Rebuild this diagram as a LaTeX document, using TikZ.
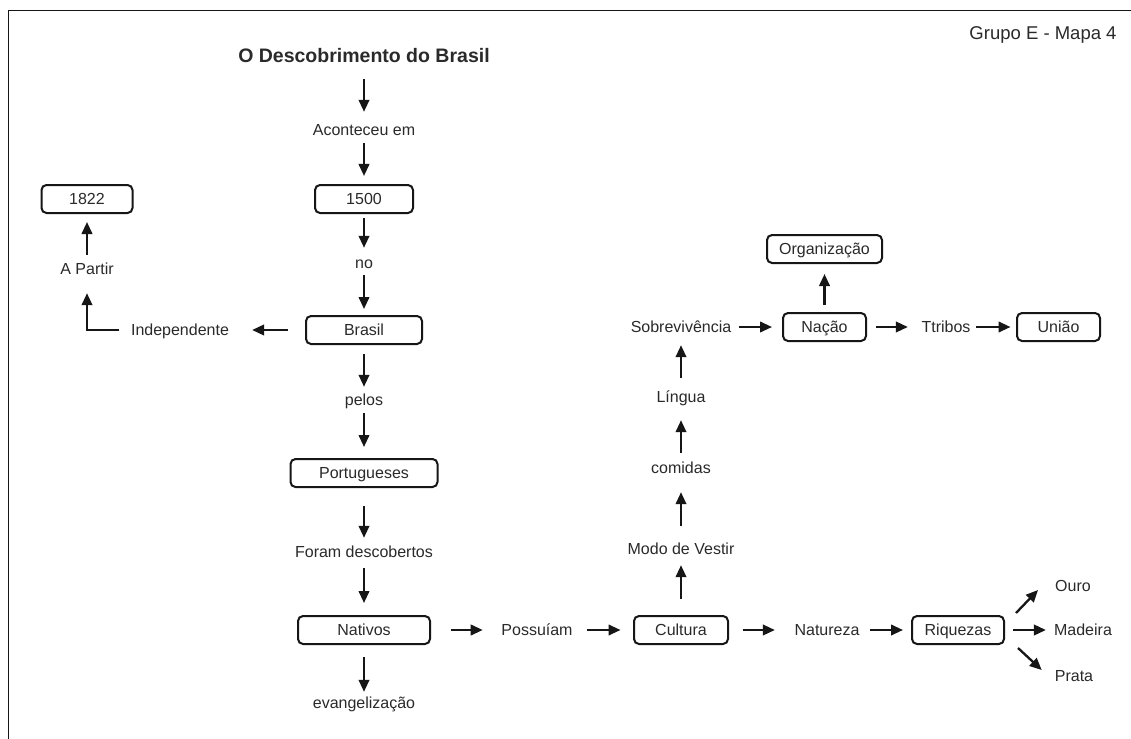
\documentclass[tikz,border=0pt]{standalone}
\usepackage{fontspec}
\setmainfont{Liberation Sans}
\usetikzlibrary{arrows.meta,calc}
\definecolor{ink}{HTML}{161616}
\definecolor{txt}{HTML}{2A2A2A}
\begin{document}
\begin{tikzpicture}[x=1pt,y=-1pt,
  every node/.style={text=txt, font=\fontsize{16}{18}\selectfont},
  lbl/.style={inner sep=0pt, text height=11pt, text depth=0pt},
  box/.style={draw=ink, line width=2pt, rounded corners=5pt, minimum height=28pt,
              inner sep=0pt, text height=11pt, text depth=0pt},
  arr/.style={draw=ink, line width=2.3pt, -{Triangle[length=12pt,width=10.5pt]}},
]
\useasboundingbox (0,0) rectangle (1131,738);
\fill[white] (0,0) rectangle (1131,738);
% page frame
\draw[ink, line width=1.5pt] (8.5,745) -- (8.5,10.5) -- (1140,10.5);

% headings
\node[font=\bfseries\fontsize{19.5}{22}\selectfont, inner sep=0pt, text height=14pt, text depth=0pt]
  (title) at (364,56) {O Descobrimento do Brasil};
\node[font=\fontsize{18.5}{21}\selectfont, inner sep=0pt, text height=13pt, text depth=0pt]
  (grupo) at (1043,33) {Grupo E - Mapa 4};

% main column
\node[lbl] (acont) at (364,130) {Aconteceu em};
\node[box, minimum width=98pt] (b1500) at (364,199) {1500};
\node[lbl] (no) at (364,263) {no};
\node[box, minimum width=116pt] (brasil) at (364,330) {Brasil};
\node[lbl] (pelos) at (364,400) {pelos};
\node[box, minimum width=147pt] (port) at (364,473) {Portugueses};
\node[lbl] (foram) at (364,552) {Foram descobertos};
\node[box, minimum width=132pt] (nativos) at (364,630) {Nativos};
\node[lbl] (evang) at (364,703) {evangelização};

% left branch
\node[lbl] (indep) at (180,330) {Independente};
\node[lbl] (apartir) at (87,269) {A Partir};
\node[box, minimum width=91pt] (b1822) at (87,199) {1822};

% bottom row
\node[lbl] (possuiam) at (537,630) {Possuíam};
\node[box, minimum width=94pt] (cultura) at (681,630) {Cultura};
\node[lbl] (natureza) at (827,630) {Natureza};
\node[box, minimum width=92pt] (riquezas) at (958,630) {Riquezas};
\node[lbl] (madeira) at (1083,630) {Madeira};
\node[lbl] (ouro) at (1073,586) {Ouro};
\node[lbl] (prata) at (1074,676) {Prata};

% right column
\node[lbl] (modo) at (681,549) {Modo de Vestir};
\node[lbl] (comidas) at (681,468) {comidas};
\node[lbl] (lingua) at (681,397) {Língua};
\node[lbl] (sobrev) at (681,327) {Sobrevivência};
\node[box, minimum width=83pt] (nacao) at (824.5,327) {Nação};
\node[box, minimum width=115pt] (organ) at (824.5,249) {Organização};
\node[lbl] (tribos) at (946,327) {Ttribos};
\node[box, minimum width=83pt] (uniao) at (1058.5,327) {União};

% connectors, main column
\draw[arr, shorten <=16pt, shorten >=12.5pt] (title) -- (acont);
\draw[arr, shorten <=7.5pt, shorten >=8pt] (acont) -- (b1500);
\draw[arr, shorten <=4pt, shorten >=9.5pt] (b1500) -- (no);
\draw[arr, shorten <=6.5pt, shorten >=6pt] (no) -- (brasil);
\draw[arr, shorten <=9pt, shorten >=7.5pt] (brasil) -- (pelos);
\draw[arr, shorten <=7.5pt, shorten >=11pt] (pelos) -- (port);
\draw[arr, shorten <=18pt, shorten >=8.5pt] (port) -- (foram);
\draw[arr, shorten <=10.5pt, shorten >=12pt] (foram) -- (nativos);
\draw[arr, shorten <=12pt, shorten >=5.5pt] (nativos) -- (evang);

% connectors, left branch
\draw[arr, shorten <=17.5pt, shorten >=23pt] (brasil) -- (indep);
\draw[arr, shorten <=11.5pt, shorten >=18.5pt] (indep.west) -| (apartir.south);
\draw[arr, shorten <=8.5pt, shorten >=8pt] (apartir) -- (b1822);

% connectors, bottom row
\draw[arr, shorten <=20pt, shorten >=18.5pt] (nativos) -- (possuiam);
\draw[arr, shorten <=14.5pt, shorten >=12.5pt] (possuiam) -- (cultura);
\draw[arr, shorten <=13.5pt, shorten >=19.5pt] (cultura) -- (natureza);
\draw[arr, shorten <=10.5pt, shorten >=8pt] (natureza) -- (riquezas);
\draw[arr, shorten <=8pt, shorten >=8pt] (riquezas) -- (madeira);
\draw[arr] ($(riquezas.north east)+(11,-2)$) -- ($(ouro.west)+(-17,4)$);
\draw[arr] ($(riquezas.south east)+(13,3)$) -- ($(prata.west)+(-13,-6)$);

% connectors, right column
\draw[arr, shorten <=16pt, shorten >=10.5pt] (cultura) -- (modo);
\draw[arr, shorten <=17.5pt, shorten >=18.5pt] (modo) -- (comidas);
\draw[arr, shorten <=9.5pt, shorten >=17.5pt] (comidas) -- (lingua);
\draw[arr, shorten <=13.5pt, shorten >=12.5pt] (lingua) -- (sobrev);
\draw[arr, shorten <=7.5pt, shorten >=10pt] (sobrev) -- (nacao);
\draw[arr, shorten <=7pt, shorten >=10pt] (nacao) -- (organ);
\draw[arr, shorten <=9pt, shorten >=13.5pt] (nacao) -- (tribos);
\draw[arr, shorten <=5.5pt, shorten >=5.5pt] (tribos) -- (uniao);
\end{tikzpicture}
\end{document}
